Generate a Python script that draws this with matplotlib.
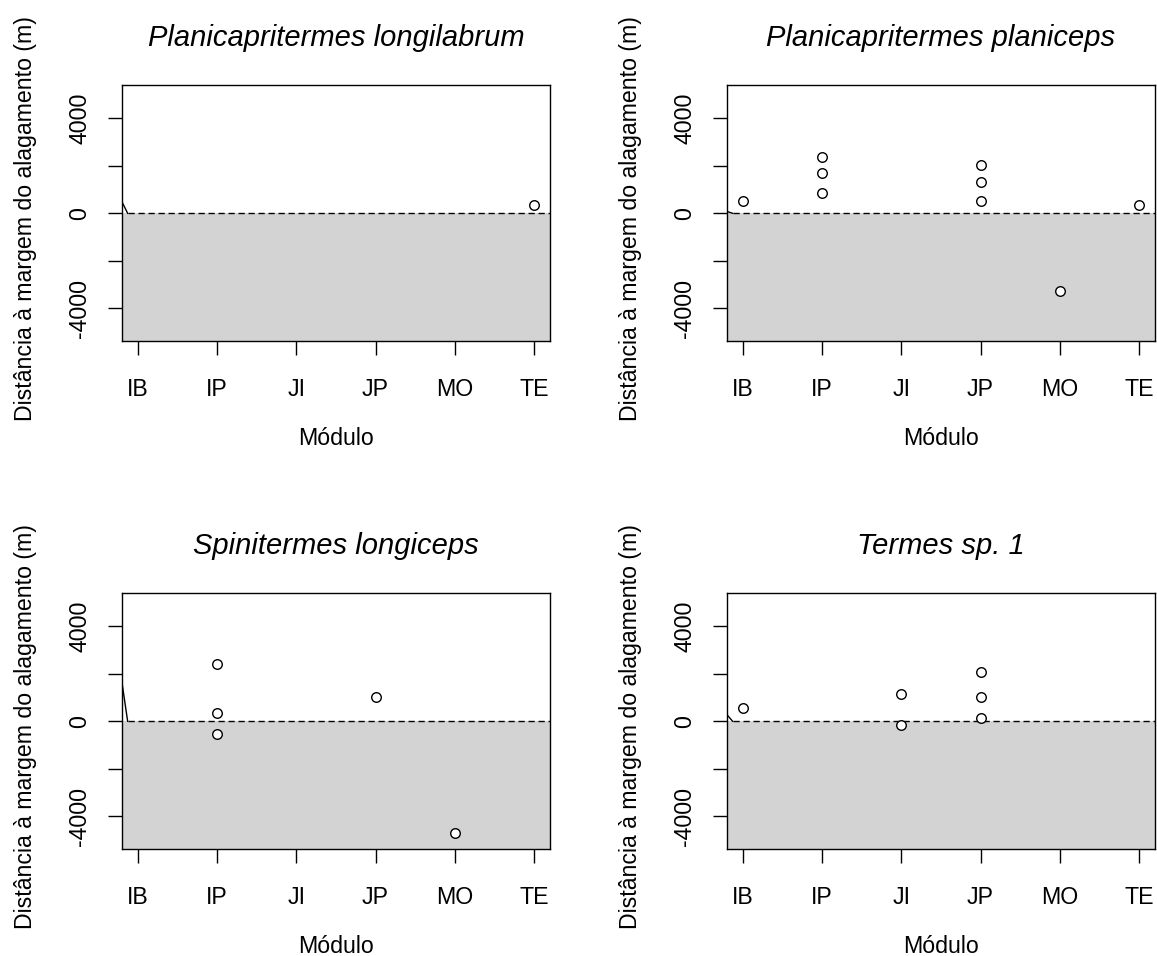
import numpy as np
import matplotlib.pyplot as plt

plt.rcParams['font.family'] = ['Liberation Sans', 'DejaVu Sans']

# Módulos amostrados (eixo x)
modulos = ['IB', 'IP', 'JI', 'JP', 'MO', 'TE']

especies = ['Planicapritermes longilabrum', 'Planicapritermes planiceps',
            'Spinitermes longiceps', 'Termes sp. 1']

# Ocorrências: módulo e distância à margem do alagamento (m)
pl_modulo = ['TE']
pl_dist = [330]

pp_modulo = ['IB', 'IP', 'IP', 'IP', 'JP', 'JP', 'JP', 'MO', 'TE']
pp_dist = [505, 2360, 1710, 860, 2010, 1300, 505, -3270, 340]

sl_modulo = ['IP', 'IP', 'IP', 'JP', 'MO']
sl_dist = [2400, 350, -550, 1030, -4710]

t1_modulo = ['IB', 'JI', 'JI', 'JP', 'JP', 'JP']
t1_dist = [580, 1140, -170, 2060, 1030, 120]

# valor da borda no limite esquerdo de cada painel
borda = [505, 80, 1710, 290]

dados = [(pl_modulo, pl_dist), (pp_modulo, pp_dist),
         (sl_modulo, sl_dist), (t1_modulo, t1_dist)]

xlim = (0.8, 6.2)
ylim = (-5380, 5380)
x_borda = 0.875

fig = plt.figure(figsize=(11.57, 9.56), dpi=100)
W, H = 1157, 956
caixas = [(121.7, 85.3), (726.7, 85.3), (121.7, 593.3), (726.7, 593.3)]
larg, alt = 428.3, 256.0
fs = 16.7

for i, (mods, dist) in enumerate(dados):
    x0, y0 = caixas[i]
    ax = fig.add_axes([x0 / W, 1 - (y0 + alt) / H, larg / W, alt / H])
    ax.set_xlim(*xlim)
    ax.set_ylim(*ylim)

    # área alagada
    ax.axhspan(ylim[0], 0, color='#d3d3d3', lw=0, zorder=0)
    ax.hlines(0, x_borda, xlim[1], colors='black', lw=1.0,
              linestyles=(0, (4.5, 2.7)), zorder=1)
    ax.plot([xlim[0], x_borda], [borda[i], 0], color='black', lw=1.0, zorder=1)

    xs = [modulos.index(m) + 1 for m in mods]
    ax.plot(xs, dist, 'o', ms=6.9, mfc='white', mec='black', mew=1.0,
            zorder=3, clip_on=False)

    ax.set_xticks(range(1, len(modulos) + 1))
    ax.set_xticklabels(modulos)
    ax.set_yticks([-4000, -2000, 0, 2000, 4000])
    ax.set_yticklabels(['-4000', '', '0', '', '4000'], rotation=90, va='center')
    ax.tick_params(axis='both', direction='out', length=10.4, width=1.0,
                   labelsize=fs)
    ax.tick_params(axis='x', pad=16.0)
    ax.tick_params(axis='y', pad=11.5)
    for s in ax.spines.values():
        s.set_linewidth(1.0)

    ax.set_xlabel('Módulo', fontsize=fs)
    ax.xaxis.set_label_coords(0.5, -(439 - 341.7) / alt)
    ax.xaxis.label.set_va('center')
    ax.set_ylabel('Distância à margem do alagamento (m)', fontsize=fs)
    ax.yaxis.set_label_coords(-(121.7 - 26) / larg, 0.48)
    ax.yaxis.label.set_va('center')

    ax.text(0.5, 1 + (85.3 - 46) / alt, especies[i], transform=ax.transAxes,
            ha='center', va='baseline', fontsize=21, style='italic')

fig.savefig('out.png', dpi=100)
